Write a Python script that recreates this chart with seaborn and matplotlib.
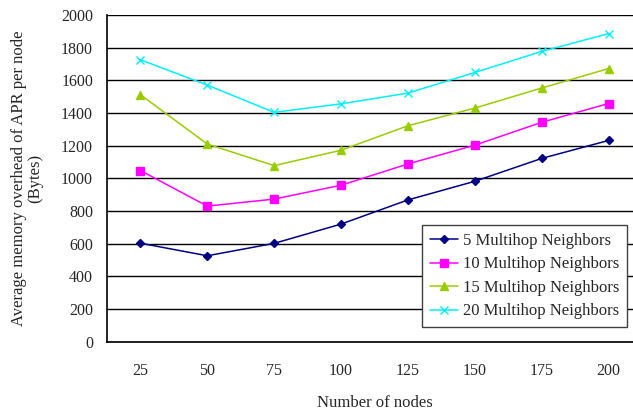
import numpy as np
import pandas as pd
import seaborn as sns
from matplotlib import pyplot as plt

nodes = [25, 50, 75, 100, 125, 150, 175, 200]
series_names = ['5 Multihop Neighbors', '10 Multihop Neighbors',
                '15 Multihop Neighbors', '20 Multihop Neighbors']
mem_5 = [603, 526, 602, 720, 868, 982, 1122, 1232]
mem_10 = [1048, 830, 873, 958, 1088, 1203, 1343, 1458]
mem_15 = [1512, 1210, 1078, 1172, 1322, 1430, 1553, 1672]
mem_20 = [1726, 1571, 1404, 1456, 1522, 1648, 1777, 1886]

rows = []
for name, vals in zip(series_names, [mem_5, mem_10, mem_15, mem_20]):
    for i, v in enumerate(vals):
        rows.append({'pos': i, 'nodes': nodes[i], 'mem': v, 'series': name})
df = pd.DataFrame(rows)

sns.set_style('white')
plt.rcParams['font.family'] = ['Liberation Serif', 'DejaVu Serif']

fig = plt.figure(figsize=(6.33, 4.12), dpi=100)
ax = fig.add_axes([107 / 633, 70.3 / 412, 535 / 633, 326.7 / 412])

palette = ['#000080', '#FF00FF', '#99CC00', '#00F0F8']
markers = ['D', 's', '^', 'x']
msizes = [4.5, 5.5, 6, 6]
for name, c, m, ms in zip(series_names, palette, markers, msizes):
    sns.lineplot(data=df[df['series'] == name], x='pos', y='mem', color=c,
                 marker=m, markersize=ms, markeredgecolor=c, markeredgewidth=1,
                 lw=1.1, label=name, ax=ax, zorder=3)

ax.set_xlim(-0.5, 7.5)
ax.set_ylim(0, 2000)
ax.set_yticks(range(0, 2001, 200))
ax.set_xticks(range(len(nodes)))
ax.set_xticklabels([str(n) for n in nodes])
ax.set_xticks(np.arange(0.5, 7.5, 1), minor=True)
ax.tick_params(axis='x', which='major', length=0, labelsize=11.5, pad=15)
ax.tick_params(axis='x', which='minor', length=5, width=1, direction='in', color='black')
ax.tick_params(axis='y', length=0, labelsize=11.5, pad=10)
ax.yaxis.grid(True, color='black', lw=1)
ax.set_axisbelow(True)
for s in ['top', 'right']:
    ax.spines[s].set_visible(False)
for s in ['left', 'bottom']:
    ax.spines[s].set_color('black')
    ax.spines[s].set_linewidth(1.2)

ax.set_xlabel('Number of nodes', fontsize=12, labelpad=12)
ax.set_ylabel('Average memory overhead of APR per node\n(Bytes)', fontsize=12,
              labelpad=13, linespacing=1.0)

leg = ax.legend(loc='lower right', bbox_to_anchor=(0.972, 0.045), borderaxespad=0,
                fontsize=12, frameon=True, fancybox=False, framealpha=1,
                edgecolor='#404040', borderpad=0.45, labelspacing=0.45,
                handlelength=1.7, handletextpad=0.3)
leg.get_frame().set_linewidth(1)

fig.savefig('out.png', dpi=100)
